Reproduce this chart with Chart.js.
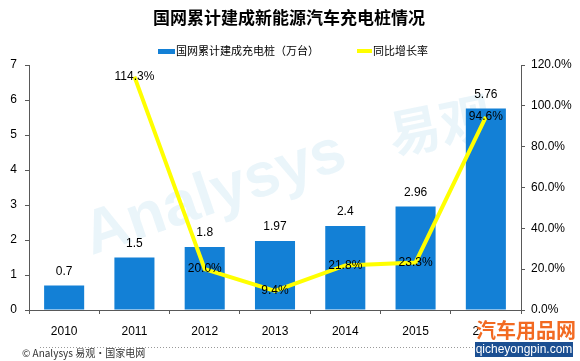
<!DOCTYPE html>
<html>
<head>
<meta charset="utf-8">
<script src="https://cdn.jsdelivr.net/npm/chart.js@4.4.1/dist/chart.umd.min.js"></script>
<style>
  html, body { margin: 0; padding: 0; background: #fff; }
  #wrap { width: 580px; height: 361px; position: relative; }
</style>
</head>
<body>
<div id="wrap"><canvas id="cntGrafica" width="580" height="361"></canvas></div>
<script>
// datos
var anios = ['2010', '2011', '2012', '2013', '2014', '2015', '2016'];
var cargadores = [0.7, 1.5, 1.8, 1.97, 2.4, 2.96, 5.76];
var crecimiento = [null, 114.3, 20.0, 9.4, 21.8, 23.3, 94.6];
var etiquetasCargadores = ['0.7', '1.5', '1.8', '1.97', '2.4', '2.96', '5.76'];

var titulo = '国网累计建成新能源汽车充电桩情况';
var leyendaBarra = '国网累计建成充电桩（万台）';
var leyendaLinea = '同比增长率';
var fuente = '© Analysys 易观·国家电网';

var cjk = '"Noto Sans CJK SC", "Noto Sans", sans-serif';
var latin = '"Liberation Sans", "DejaVu Sans", sans-serif';

var azul = '#1380d6';
var amarillo = '#ffff00';
var ejeColor = '#595959';

// textos, leyenda, marca de agua
var decoraciones = {
  id: 'decoraciones',
  beforeDatasetsDraw: function(chart) {
    var ctx = chart.ctx;
    ctx.save();
    ctx.fillStyle = 'rgba(150,205,230,0.2)';
    ctx.translate(215, 195);
    ctx.rotate(-0.33);
    ctx.font = 'bold 62px ' + latin;
    ctx.textAlign = 'center';
    ctx.textBaseline = 'middle';
    ctx.fillText('Analysys', 0, 0);
    ctx.restore();
    ctx.save();
    ctx.fillStyle = 'rgba(150,205,230,0.2)';
    ctx.font = 'bold 52px ' + cjk;
    ctx.textAlign = 'center';
    ctx.textBaseline = 'middle';
    ctx.translate(440, 125);
    ctx.rotate(-0.2);
    ctx.fillText('易观', 0, 0);
    ctx.restore();
  },
  afterDatasetsDraw: function(chart) {
    var ctx = chart.ctx;
    ctx.save();
    ctx.fillStyle = '#000';
    ctx.textAlign = 'center';
    ctx.textBaseline = 'middle';
    ctx.font = '12px ' + latin;
    var metaBar = chart.getDatasetMeta(1);
    metaBar.data.forEach(function(el, i) {
      ctx.fillText(etiquetasCargadores[i], el.x, el.y - 14);
    });
    var metaLinea = chart.getDatasetMeta(0);
    metaLinea.data.forEach(function(el, i) {
      if (crecimiento[i] === null) return;
      ctx.fillText(crecimiento[i].toFixed(1) + '%', el.x, el.y);
    });
    ctx.restore();
  },
  afterDraw: function(chart) {
    var ctx = chart.ctx;
    ctx.save();
    // titulo
    ctx.fillStyle = '#000';
    ctx.textAlign = 'center';
    ctx.textBaseline = 'middle';
    ctx.font = 'bold 17px ' + cjk;
    ctx.fillText(titulo, 289, 18);
    // leyenda
    ctx.fillStyle = azul;
    ctx.fillRect(158, 49, 17, 5);
    ctx.fillStyle = amarillo;
    ctx.fillRect(357, 49, 15, 4);
    ctx.fillStyle = '#000';
    ctx.textAlign = 'left';
    ctx.font = '11px ' + cjk;
    ctx.fillText(leyendaBarra, 176, 51);
    ctx.fillText(leyendaLinea, 373, 51);
    // linea punteada
    ctx.strokeStyle = '#999';
    ctx.setLineDash([1, 2]);
    ctx.lineWidth = 1;
    ctx.beginPath();
    ctx.moveTo(40, 347.5);
    ctx.lineTo(478, 347.5);
    ctx.stroke();
    ctx.setLineDash([]);
    // fuente
    ctx.fillStyle = '#333';
    ctx.font = '10px ' + cjk;
    ctx.fillText(fuente, 22, 353);
    // logo
    ctx.fillStyle = '#fff';
    ctx.fillRect(479, 318, 101, 22);
    ctx.fillStyle = '#f26a22';
    ctx.font = 'bold 20px ' + cjk;
    ctx.textAlign = 'left';
    ctx.fillText('汽车用品网', 476, 330);
    ctx.fillStyle = '#1b4f92';
    ctx.fillRect(475, 342, 98, 15);
    ctx.fillStyle = '#fff';
    ctx.font = '12px ' + latin;
    ctx.textAlign = 'center';
    ctx.fillText('qicheyongpin.com', 524, 350);
    ctx.restore();
  }
};

var ctx = document.getElementById('cntGrafica').getContext('2d');

window.cntGrafica_ = new Chart(ctx, {
  data: {
    labels: anios,
    datasets: [{
      type: 'line',
      label: leyendaLinea,
      data: crecimiento,
      yAxisID: 'y2',
      borderColor: amarillo,
      backgroundColor: amarillo,
      borderWidth: 4,
      pointRadius: 0,
      tension: 0,
      spanGaps: false,
      order: 0
    }, {
      type: 'bar',
      label: leyendaBarra,
      data: cargadores,
      yAxisID: 'y',
      backgroundColor: azul,
      borderWidth: 0,
      categoryPercentage: 1,
      barPercentage: 0.57,
      order: 1
    }]
  },
  options: {
    responsive: false,
    animation: false,
    layout: { padding: { top: 65, left: 0, right: 0, bottom: 0 } },
    plugins: {
      legend: { display: false },
      title: { display: false },
      tooltip: { enabled: false }
    },
    scales: {
      x: {
        grid: { display: true, drawOnChartArea: false, drawTicks: true, tickLength: 4, color: ejeColor, offset: true },
        border: { color: ejeColor, width: 1 },
        ticks: { color: '#000', font: { size: 12, family: latin }, padding: 10 },
        afterFit: function(scale) { scale.height = 51; }
      },
      y: {
        position: 'left',
        min: 0,
        max: 7,
        ticks: { stepSize: 1, color: '#000', font: { size: 12, family: latin }, padding: 8 },
        grid: { display: true, drawOnChartArea: false, drawTicks: true, tickLength: 4, color: ejeColor },
        border: { color: ejeColor, width: 1 },
        afterFit: function(scale) { scale.width = 29; }
      },
      y2: {
        position: 'right',
        min: 0,
        max: 120,
        ticks: {
          stepSize: 20,
          color: '#000',
          font: { size: 12, family: latin },
          padding: 6,
          callback: function(v) { return v.toFixed(1) + '%'; }
        },
        grid: { display: true, drawOnChartArea: false, drawTicks: true, tickLength: 4, color: ejeColor },
        border: { color: ejeColor, width: 1 },
        afterFit: function(scale) { scale.width = 59; }
      }
    }
  },
  plugins: [decoraciones]
});
</script>
</body>
</html>
